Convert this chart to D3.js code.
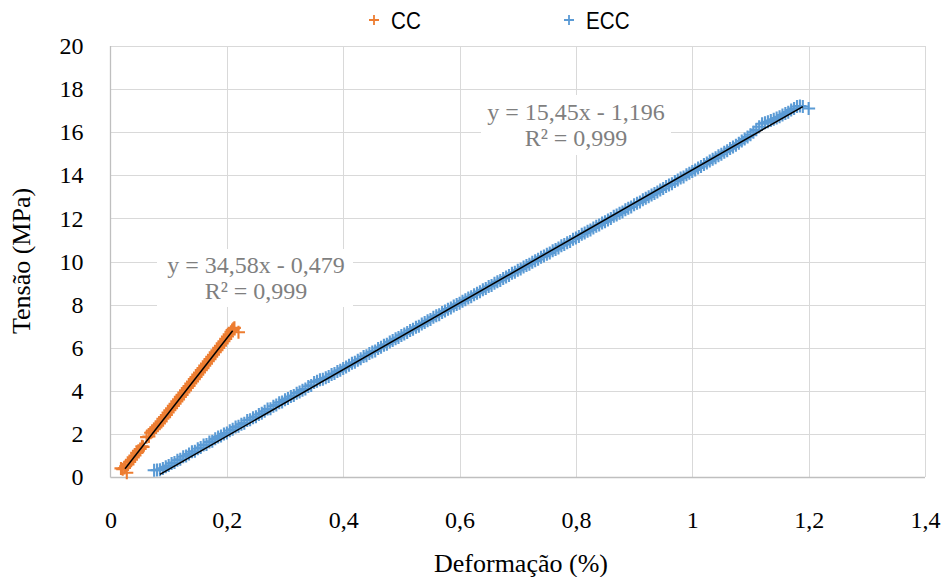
<!DOCTYPE html>
<html>
<head>
<meta charset="utf-8">
<script src="https://cdn.jsdelivr.net/npm/d3@7"></script>
<style>
  html, body { margin: 0; padding: 0; background: #fff; }
  svg { display: block; }
</style>
</head>
<body>
<svg id="chart" width="944" height="577"></svg>
<script>
// Axis ticks
const xTicks = [0, 0.2, 0.4, 0.6, 0.8, 1.0, 1.2, 1.4];
const yTicks = [0, 2, 4, 6, 8, 10, 12, 14, 16, 18, 20];

// CC specimen: strain (%) and stress (MPa)
const ccStrain = [0.018, 0.021, 0.024, 0.026, 0.028, 0.030, 0.033, 0.036, 0.039, 0.042, 0.045,
  0.048, 0.051, 0.054, 0.056, 0.062, 0.066, 0.069, 0.072, 0.075, 0.078, 0.081, 0.084, 0.087,
  0.090, 0.093, 0.096, 0.099, 0.102, 0.105, 0.108, 0.111, 0.114, 0.117, 0.120, 0.123, 0.126,
  0.129, 0.132, 0.135, 0.138, 0.141, 0.144, 0.147, 0.150, 0.153, 0.156, 0.159, 0.162, 0.165,
  0.168, 0.171, 0.174, 0.177, 0.180, 0.183, 0.186, 0.189, 0.192, 0.195, 0.198, 0.201, 0.204,
  0.207, 0.209, 0.211, 0.213, 0.220];
const ccStress = [0.40, 0.36, 0.42, 0.50, 0.20, 0.58, 0.70, 0.80, 0.91, 1.00, 1.12,
  1.22, 1.30, 1.43, 1.40, 1.85, 1.88, 2.05, 2.15, 2.22, 2.30, 2.38, 2.48, 2.58,
  2.70, 2.78, 2.88, 2.99, 3.10, 3.19, 3.30, 3.40, 3.51, 3.60, 3.72, 3.81, 3.92,
  4.02, 4.13, 4.22, 4.34, 4.43, 4.54, 4.64, 4.75, 4.85, 4.96, 5.05, 5.17, 5.26,
  5.37, 5.47, 5.58, 5.67, 5.79, 5.88, 5.99, 6.09, 6.20, 6.30, 6.41, 6.52, 6.62,
  6.74, 6.82, 6.88, 6.92, 6.72];

// ECC specimen: strain (%) and stress (MPa)
const eccStrain = [0.075, 0.080, 0.085, 0.090, 0.095, 0.100, 0.105, 0.110, 0.115, 0.120, 0.125,
  0.130, 0.135, 0.140, 0.145, 0.150, 0.155, 0.160, 0.165, 0.170, 0.175, 0.180, 0.185, 0.190,
  0.195, 0.200, 0.205, 0.210, 0.215, 0.220, 0.225, 0.230, 0.235, 0.240, 0.245, 0.250, 0.255,
  0.260, 0.265, 0.270, 0.275, 0.280, 0.285, 0.290, 0.295, 0.300, 0.305, 0.310, 0.315, 0.320,
  0.325, 0.330, 0.335, 0.340, 0.345, 0.350, 0.355, 0.360, 0.365, 0.370, 0.375, 0.380, 0.385,
  0.390, 0.395, 0.400, 0.405, 0.410, 0.415, 0.420, 0.425, 0.430, 0.435, 0.440, 0.445, 0.450,
  0.455, 0.460, 0.465, 0.470, 0.475, 0.480, 0.485, 0.490, 0.495, 0.500, 0.505, 0.510, 0.515,
  0.520, 0.525, 0.530, 0.535, 0.540, 0.545, 0.550, 0.555, 0.560, 0.565, 0.570, 0.575, 0.580,
  0.585, 0.590, 0.595, 0.600, 0.605, 0.610, 0.615, 0.620, 0.625, 0.630, 0.635, 0.640, 0.645,
  0.650, 0.655, 0.660, 0.665, 0.670, 0.675, 0.680, 0.685, 0.690, 0.695, 0.700, 0.705, 0.710,
  0.715, 0.720, 0.725, 0.730, 0.735, 0.740, 0.745, 0.750, 0.755, 0.760, 0.765, 0.770, 0.775,
  0.780, 0.785, 0.790, 0.795, 0.800, 0.805, 0.810, 0.815, 0.820, 0.825, 0.830, 0.835, 0.840,
  0.845, 0.850, 0.855, 0.860, 0.865, 0.870, 0.875, 0.880, 0.885, 0.890, 0.895, 0.900, 0.905,
  0.910, 0.915, 0.920, 0.925, 0.930, 0.935, 0.940, 0.945, 0.950, 0.955, 0.960, 0.965, 0.970,
  0.975, 0.980, 0.985, 0.990, 0.995, 1.000, 1.005, 1.010, 1.015, 1.020, 1.025, 1.030, 1.035,
  1.040, 1.045, 1.050, 1.055, 1.060, 1.065, 1.070, 1.075, 1.080, 1.085, 1.090, 1.095, 1.100,
  1.105, 1.110, 1.115, 1.120, 1.125, 1.130, 1.135, 1.140, 1.145, 1.150, 1.155, 1.160, 1.165,
  1.170, 1.175, 1.180, 1.185, 1.190, 1.200];
const eccStress = [0.31, 0.32, 0.34, 0.40, 0.47, 0.53, 0.63, 0.67, 0.78, 0.82, 0.94,
  0.98, 1.07, 1.17, 1.19, 1.31, 1.37, 1.48, 1.51, 1.62, 1.66, 1.77, 1.86, 1.90,
  2.00, 2.04, 2.15, 2.21, 2.32, 2.35, 2.45, 2.50, 2.62, 2.66, 2.75, 2.80, 2.90,
  2.96, 3.05, 3.15, 3.17, 3.28, 3.34, 3.45, 3.48, 3.58, 3.64, 3.73, 3.78, 3.89,
  3.95, 4.03, 4.08, 4.20, 4.25, 4.39, 4.44, 4.51, 4.54, 4.60, 4.66, 4.76, 4.80,
  4.89, 4.95, 5.04, 5.11, 5.18, 5.28, 5.32, 5.42, 5.49, 5.59, 5.63, 5.73, 5.80,
  5.85, 5.96, 6.02, 6.11, 6.16, 6.27, 6.33, 6.41, 6.47, 6.57, 6.64, 6.70, 6.80,
  6.86, 6.95, 7.00, 7.10, 7.17, 7.25, 7.31, 7.41, 7.48, 7.53, 7.63, 7.70, 7.79,
  7.84, 7.94, 8.01, 8.06, 8.16, 8.22, 8.31, 8.36, 8.46, 8.53, 8.60, 8.69, 8.75,
  8.84, 8.89, 8.99, 9.06, 9.12, 9.21, 9.28, 9.35, 9.45, 9.50, 9.59, 9.65, 9.74,
  9.81, 9.87, 9.97, 10.03, 10.10, 10.20, 10.25, 10.34, 10.40, 10.50, 10.56, 10.63, 10.73,
  10.79, 10.87, 10.93, 11.03, 11.09, 11.16, 11.26, 11.32, 11.40, 11.46, 11.56, 11.63, 11.69,
  11.79, 11.85, 11.93, 12.00, 12.10, 12.16, 12.24, 12.30, 12.40, 12.47, 12.53, 12.63, 12.70,
  12.76, 12.86, 12.93, 13.00, 13.09, 13.16, 13.23, 13.32, 13.39, 13.48, 13.55, 13.61, 13.71,
  13.78, 13.87, 13.92, 14.02, 14.09, 14.18, 14.25, 14.34, 14.41, 14.50, 14.57, 14.66, 14.75,
  14.81, 14.91, 14.98, 15.07, 15.14, 15.24, 15.31, 15.40, 15.49, 15.59, 15.68, 15.78, 15.88,
  16.00, 16.11, 16.25, 16.39, 16.44, 16.48, 16.54, 16.60, 16.66, 16.72, 16.80, 16.87, 16.93,
  17.03, 17.10, 17.19, 17.21, 17.19, 17.10];

// Linear trendlines: slope, intercept and strain extent
const ccFit = { slope: 34.58, intercept: -0.479, from: 0.025, to: 0.21 };
const eccFit = { slope: 15.45, intercept: -1.196, from: 0.085, to: 1.19 };
const ccLabel = ["y = 34,58x - 0,479", "R² = 0,999"];
const eccLabel = ["y = 15,45x - 1,196", "R² = 0,999"];

const seriesNames = ["CC", "ECC"];
const colors = { CC: "#ED7D31", ECC: "#5B9BD5" };

const svg = d3.select("#chart");
const plotLeft = 110.5, plotRight = 925, plotTop = 46, plotBottom = 477;
const x = d3.scaleLinear().domain([0, 1.4]).range([plotLeft, plotRight]);
const y = d3.scaleLinear().domain([0, 20]).range([plotBottom, plotTop]);

const serif = "Liberation Serif, DejaVu Serif, Noto Serif, Times New Roman, serif";
const narrow = "Liberation Sans Narrow, Arial Narrow, Liberation Sans, sans-serif";
const fmt = d => String(d).replace(".", ",");

// Gridlines
svg.append("g").selectAll("line").data(yTicks.filter(d => d > 0)).join("line")
  .attr("x1", plotLeft).attr("x2", plotRight)
  .attr("y1", d => Math.round(y(d)) + 0.5).attr("y2", d => Math.round(y(d)) + 0.5)
  .attr("stroke", "#d9d9d9").attr("stroke-width", 1);
svg.append("g").selectAll("line").data(xTicks.filter(d => d > 0)).join("line")
  .attr("x1", d => Math.round(x(d)) + 0.5).attr("x2", d => Math.round(x(d)) + 0.5)
  .attr("y1", plotTop).attr("y2", plotBottom)
  .attr("stroke", "#d9d9d9").attr("stroke-width", 1);

// Axis lines
svg.append("line").attr("x1", plotLeft).attr("x2", plotLeft).attr("y1", plotTop).attr("y2", plotBottom + 0.5)
  .attr("stroke", "#bfbfbf").attr("stroke-width", 1.3);
svg.append("line").attr("x1", plotLeft).attr("x2", plotRight).attr("y1", plotBottom + 0.5).attr("y2", plotBottom + 0.5)
  .attr("stroke", "#bfbfbf").attr("stroke-width", 1.3);

// Tick labels
const xAxis = d3.axisBottom(x).tickValues(xTicks).tickFormat(fmt).tickSize(0).tickPadding(34);
const gx = svg.append("g").attr("transform", `translate(0,${plotBottom})`).call(xAxis);
gx.attr("font-family", null);
gx.select(".domain").remove();
gx.selectAll("text").style("font-family", serif).style("font-size", "24px").attr("fill", "#000");

const yAxis = d3.axisLeft(y).tickValues(yTicks).tickFormat(fmt).tickSize(0).tickPadding(27);
const gy = svg.append("g").attr("transform", `translate(${plotLeft},0)`).call(yAxis);
gy.attr("font-family", null);
gy.select(".domain").remove();
gy.selectAll("text").style("font-family", serif).style("font-size", "24px").attr("fill", "#000");

// Axis titles
svg.append("text").attr("x", 521).attr("y", 572).attr("text-anchor", "middle")
  .style("font-family", serif).style("font-size", "26px").text("Deformação (%)");
svg.append("text").attr("transform", "translate(30,261) rotate(-90)").attr("text-anchor", "middle")
  .style("font-family", serif).style("font-size", "26px").text("Tensão (MPa)");

// Plus markers
const plus = "M-6.5,0H6.5M0,-6.5V6.5";
function drawSeries(xs, ys, color) {
  svg.append("g").selectAll("path").data(xs.map((d, i) => [d, ys[i]])).join("path")
    .attr("d", plus)
    .attr("transform", d => `translate(${x(d[0])},${y(d[1])})`)
    .attr("stroke", color).attr("stroke-width", 2.1).attr("fill", "none");
}
drawSeries(eccStrain, eccStress, colors.ECC);
drawSeries(ccStrain, ccStress, colors.CC);

// Trendlines
function drawFit(f) {
  const pts = [f.from, f.to].map(s => [s, f.slope * s + f.intercept]);
  svg.append("line")
    .attr("x1", x(pts[0][0])).attr("y1", y(pts[0][1]))
    .attr("x2", x(pts[1][0])).attr("y2", y(pts[1][1]))
    .attr("stroke", "#000").attr("stroke-width", 1.5);
}
drawFit(ccFit);
drawFit(eccFit);

// Equation labels with white background
function drawLabel(lines, cx, base, box) {
  svg.append("rect").attr("x", box[0]).attr("y", box[1]).attr("width", box[2]).attr("height", box[3])
    .attr("fill", "#fff");
  lines.forEach((t, i) => {
    svg.append("text").attr("x", cx).attr("y", base + i * 26).attr("text-anchor", "middle")
      .style("font-family", serif).style("font-size", "24px").attr("fill", "#7f7f7f").text(t);
  });
}
drawLabel(ccLabel, 256, 273, [157, 249, 196, 58]);
drawLabel(eccLabel, 576, 120, [481, 95, 190, 60]);

// Legend
const legend = svg.append("g");
const legendPos = [374, 569];
seriesNames.forEach((name, i) => {
  legend.append("path").attr("d", "M-5,0H5M0,-5V5").attr("transform", `translate(${legendPos[i]},20)`)
    .attr("stroke", colors[name]).attr("stroke-width", 1.8).attr("fill", "none");
  legend.append("text").attr("transform", `translate(${legendPos[i] + 17},29) scale(0.86,1)`)
    .style("font-family", narrow).style("font-size", "24px").attr("fill", "#000").text(name);
});
</script>
</body>
</html>
